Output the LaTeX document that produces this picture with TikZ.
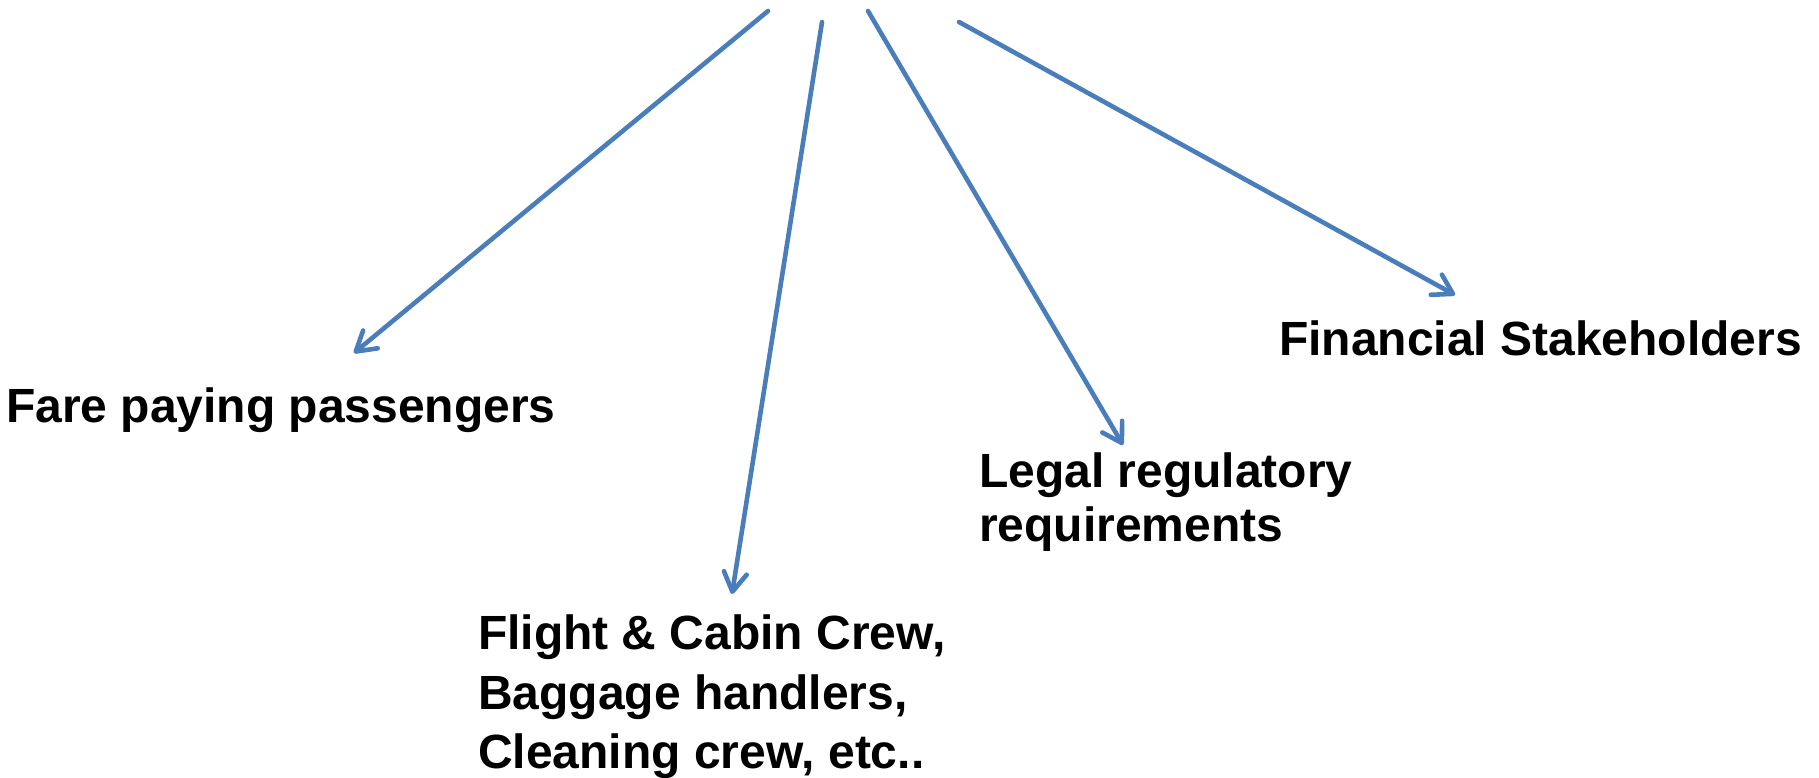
\documentclass[tikz,border=0pt]{standalone}
\usepackage{fontspec}
\setmainfont{Liberation Sans}
\usetikzlibrary{arrows.meta}
\definecolor{arrowblue}{HTML}{4A7EBB}
\tikzset{
  lbl/.style={inner sep=0pt, outer sep=0pt, anchor=north west, align=left, text=black},
  conn/.style={draw=arrowblue, line width=4.6pt, line cap=round,
    -{Straight Barb[length=19pt, width=23pt, line width=4.6pt, round]}}
}
\begin{document}
\begin{tikzpicture}[x=1pt, y=-1pt]
  \useasboundingbox (0,0) rectangle (1819,778);
  % free start points of the connectors (source is outside the picture)
  \coordinate (s1) at (768,11);
  \coordinate (s2) at (822,22);
  \coordinate (s3) at (868,11);
  \coordinate (s4) at (959,22);
  % arrow tips
  \coordinate (t1) at (354,353);
  \coordinate (t2) at (732,594);
  \coordinate (t3) at (1123,445);
  \coordinate (t4) at (1455,295);
  % labels
  \node[lbl, font=\fontsize{48}{59}\selectfont\bfseries] (fare) at (6,388) {Fare paying passengers};
  \node[lbl, font=\fontsize{48}{59.5}\selectfont\bfseries] (crew) at (478,615) {Flight \& Cabin Crew,\\Baggage handlers,\\Cleaning crew, etc..};
  \node[lbl, font=\fontsize{48}{54}\selectfont\bfseries] (legal) at (979,453) {Legal regulatory\\requirements};
  \node[lbl, font=\fontsize{48}{59}\selectfont\bfseries] (fin) at (1279,321) {Financial Stakeholders};
  % connectors
  \draw[conn] (s1) -- (t1);
  \draw[conn] (s2) -- (t2);
  \draw[conn] (s3) -- (t3);
  \draw[conn] (s4) -- (t4);
\end{tikzpicture}
\end{document}
